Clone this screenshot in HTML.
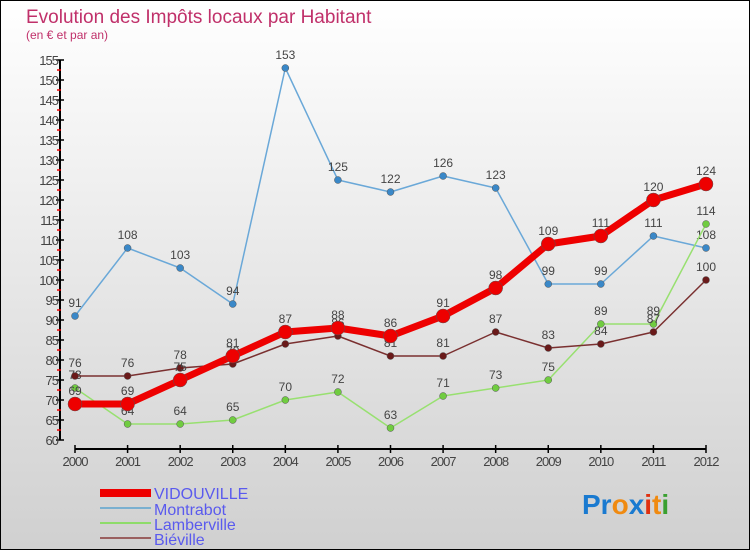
<!DOCTYPE html>
<html><head><meta charset="utf-8"><style>
body{margin:0;width:750px;height:550px;overflow:hidden;font-family:"Liberation Sans",sans-serif}
svg{display:block}
</style></head><body>
<svg id="chart" width="750" height="550" xmlns="http://www.w3.org/2000/svg">
<defs><linearGradient id="bg" x1="0" y1="0" x2="0" y2="1"><stop offset="0" stop-color="#ffffff"/><stop offset="1" stop-color="#d0d0d0"/></linearGradient></defs>
<rect x="0.5" y="0.5" width="749" height="549" fill="url(#bg)" stroke="#000"/>
<text x="26" y="23" font-size="19" fill="#c0306a">Evolution des Impôts locaux par Habitant</text>
<text x="26" y="39" font-size="12" fill="#c0306a">(en € et par an)</text>
<g id="axes"></g><g id="series"></g>
<g font-size="16" fill="#5a5aee">
<rect x="100" y="489" width="51" height="8" fill="#e00"/><text x="154" y="499">VIDOUVILLE</text>
<rect x="100" y="507" width="51" height="2" fill="#7ab0d0"/><text x="154" y="515">Montrabot</text>
<rect x="100" y="522" width="51" height="2" fill="#8edc6a"/><text x="154" y="530">Lamberville</text>
<rect x="100" y="537" width="51" height="2" fill="#9a6060"/><text x="154" y="545">Biéville</text>
</g>
<g font-size="28" font-weight="bold">
<text x="582" y="514"><tspan fill="#1a7ad0">Pr</tspan><tspan fill="#f08a10">o</tspan><tspan fill="#1a7ad0">x</tspan><tspan fill="#e03010">i</tspan><tspan fill="#f08a10">t</tspan><tspan fill="#3aa030">i</tspan></text>
</g>
</svg>
<script>
const years=["2000","2001","2002","2003","2004","2005","2006","2007","2008","2009","2010","2011","2012"];
const vidouville=[69,69,75,81,87,88,86,91,98,109,111,120,124];
const montrabot=[91,108,103,94,153,125,122,126,123,99,99,111,108];
const lamberville=[73,64,64,65,70,72,63,71,73,75,89,89,114];
const bieville=[76,76,78,79,84,86,81,81,87,83,84,87,100];
const yTicks=[60,65,70,75,80,85,90,95,100,105,110,115,120,125,130,135,140,145,150,155];
const NS="http://www.w3.org/2000/svg";
const xs=i=>75+i*(706-75)/(years.length-1);
const ys=v=>440-(v-60)*4;
function el(t,a,p){const e=document.createElementNS(NS,t);for(const k in a)e.setAttribute(k,a[k]);p.appendChild(e);return e;}
const ax=document.getElementById('axes');
const yl=el('line',{x1:60,y1:60,x2:60,y2:440,stroke:'#000','stroke-width':2},ax);


yTicks.forEach(v=>{
 el('line',{x1:56,y1:ys(v),x2:64,y2:ys(v),stroke:'#000','stroke-width':1.5},ax);
 if(v<155) el('line',{x1:57,y1:ys(v+2.5),x2:61,y2:ys(v+2.5),stroke:'#e00','stroke-width':1.5},ax);
 const t=el('text',{x:58,y:ys(v)+5,'text-anchor':'end','font-size':13,fill:'#444','letter-spacing':'-1'},ax);
 
 
 t.textContent=v;
});
const xl=el('line',{x1:75,y1:449,x2:706,y2:449,stroke:'#000','stroke-width':2},ax);


years.forEach((y,i)=>{
 el('line',{x1:xs(i),y1:445,x2:xs(i),y2:453,stroke:'#000','stroke-width':1.5},ax);
 const t=el('text',{x:xs(i),y:466,'text-anchor':'middle','font-size':13,fill:'#444','letter-spacing':'-1'},ax);
 
 
 t.textContent=y;
});
const sg=document.getElementById('series');
function series(name,data,color,dot,w,r){
 const g=el('g',{},sg);
 
 
 el('polyline',{points:data.map((v,i)=>xs(i)+','+ys(v)).join(' '),fill:'none',stroke:color,'stroke-width':w,'stroke-linejoin':'round'},g);
 data.forEach((v,i)=>{
  const c=el('circle',{cx:xs(i),cy:ys(v),r:r,fill:dot,stroke:'#555','stroke-width':0.5},g);
  
  
  const t=el('text',{x:xs(i),y:ys(v)-9,'text-anchor':'middle','font-size':12,fill:'#444'},g);
  
  
  t.textContent=v;
 });
}
series('montrabot',montrabot,'#6aa8d8','#3a88c8',1.5,3.5);
series('lamberville',lamberville,'#98e070','#70cc40',1.5,3.5);
series('bieville',bieville,'#7a3030','#6a1a1a',1.5,3.5);
series('vidouville',vidouville,'#ee0000','#ee0000',7,7);
</script>
</body></html>
